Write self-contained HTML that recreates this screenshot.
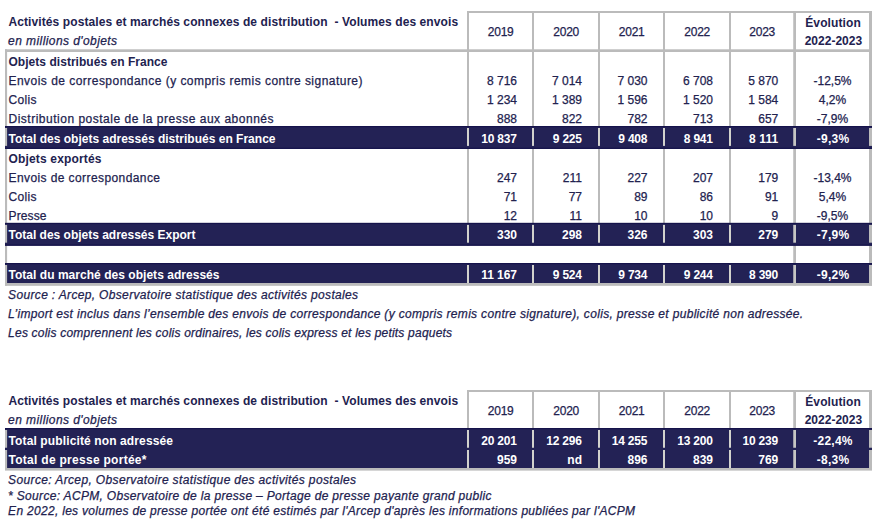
<!DOCTYPE html>
<html lang="fr"><head><meta charset="utf-8"><title>Activités postales - Volumes des envois</title>
<style>
html,body{margin:0;padding:0;background:#fff;}
svg{display:block;}
text{white-space:pre;}
</style></head>
<body>
<svg width="881" height="531" viewBox="0 0 881 531">
<rect x="0" y="0" width="881" height="531" fill="#ffffff"/>
<g font-family="'Liberation Sans', sans-serif" font-size="12" fill="#22224f">
<text x="8.5" y="25.6" font-weight="bold" textLength="449.6" lengthAdjust="spacing">Activités postales et marchés connexes de distribution  - Volumes des envois</text>
<text x="8.1" y="44.75" font-style="italic" stroke="#22224f" stroke-width="0.25" textLength="109" lengthAdjust="spacing">en millions d'objets</text>
<text x="500.75" y="36" text-anchor="middle" stroke="#22224f" stroke-width="0.25" textLength="26" lengthAdjust="spacing">2019</text>
<text x="566.25" y="36" text-anchor="middle" stroke="#22224f" stroke-width="0.25" textLength="26" lengthAdjust="spacing">2020</text>
<text x="631.75" y="36" text-anchor="middle" stroke="#22224f" stroke-width="0.25" textLength="26" lengthAdjust="spacing">2021</text>
<text x="697.25" y="36" text-anchor="middle" stroke="#22224f" stroke-width="0.25" textLength="26" lengthAdjust="spacing">2022</text>
<text x="762.25" y="36" text-anchor="middle" stroke="#22224f" stroke-width="0.25" textLength="26" lengthAdjust="spacing">2023</text>
<text x="833" y="26.6" text-anchor="middle" font-weight="bold" textLength="55.5" lengthAdjust="spacing">Évolution</text>
<text x="833.4" y="45.4" text-anchor="middle" font-weight="bold" textLength="57.5" lengthAdjust="spacing">2022-2023</text>
<rect x="467" y="11" width="405" height="2" fill="#bbbbbb"/>
<rect x="467" y="11" width="2" height="235" fill="#bbbbbb"/>
<rect x="532" y="11" width="2" height="235" fill="#bbbbbb"/>
<rect x="598" y="11" width="2" height="235" fill="#bbbbbb"/>
<rect x="663" y="11" width="2" height="235" fill="#bbbbbb"/>
<rect x="729" y="11" width="2" height="235" fill="#bbbbbb"/>
<rect x="793.25" y="11" width="2.75" height="274.6" fill="#bbbbbb"/>
<rect x="869" y="11" width="3" height="274.6" fill="#bbbbbb"/>
<rect x="5" y="49.3" width="2.1" height="236.3" fill="#bbbbbb"/>
<rect x="5" y="49.3" width="867" height="2.7" fill="#bbbbbb"/>
<rect x="5" y="283" width="867" height="2.6" fill="#bbbbbb"/>
<text x="8.5" y="65.6" font-weight="bold" textLength="159" lengthAdjust="spacing">Objets distribués en France</text>
<text x="8.5" y="84.75" stroke="#22224f" stroke-width="0.25" textLength="354" lengthAdjust="spacing">Envois de correspondance (y compris remis contre signature)</text>
<text x="517" y="84.75" text-anchor="end" stroke="#22224f" stroke-width="0.25">8 716</text>
<text x="582" y="84.75" text-anchor="end" stroke="#22224f" stroke-width="0.25">7 014</text>
<text x="647.5" y="84.75" text-anchor="end" stroke="#22224f" stroke-width="0.25">7 030</text>
<text x="713" y="84.75" text-anchor="end" stroke="#22224f" stroke-width="0.25">6 708</text>
<text x="778.25" y="84.75" text-anchor="end" stroke="#22224f" stroke-width="0.25">5 870</text>
<text x="832.5" y="84.75" text-anchor="middle" stroke="#22224f" stroke-width="0.25">-12,5%</text>
<text x="8.5" y="104" stroke="#22224f" stroke-width="0.25" textLength="28" lengthAdjust="spacing">Colis</text>
<text x="517" y="104" text-anchor="end" stroke="#22224f" stroke-width="0.25">1 234</text>
<text x="582" y="104" text-anchor="end" stroke="#22224f" stroke-width="0.25">1 389</text>
<text x="647.5" y="104" text-anchor="end" stroke="#22224f" stroke-width="0.25">1 596</text>
<text x="713" y="104" text-anchor="end" stroke="#22224f" stroke-width="0.25">1 520</text>
<text x="778.25" y="104" text-anchor="end" stroke="#22224f" stroke-width="0.25">1 584</text>
<text x="832.5" y="104" text-anchor="middle" stroke="#22224f" stroke-width="0.25">4,2%</text>
<text x="8.5" y="123" stroke="#22224f" stroke-width="0.25" textLength="265" lengthAdjust="spacing">Distribution postale de la presse aux abonnés</text>
<text x="517" y="123" text-anchor="end" stroke="#22224f" stroke-width="0.25">888</text>
<text x="582" y="123" text-anchor="end" stroke="#22224f" stroke-width="0.25">822</text>
<text x="647.5" y="123" text-anchor="end" stroke="#22224f" stroke-width="0.25">782</text>
<text x="713" y="123" text-anchor="end" stroke="#22224f" stroke-width="0.25">713</text>
<text x="778.25" y="123" text-anchor="end" stroke="#22224f" stroke-width="0.25">657</text>
<text x="832.5" y="123" text-anchor="middle" stroke="#22224f" stroke-width="0.25">-7,9%</text>
<rect x="5" y="126" width="867" height="22.9" fill="#232255"/>
<rect x="5" y="126" width="867" height="1.2" fill="#15134b"/>
<rect x="5" y="147.7" width="867" height="1.2" fill="#15134b"/>
<rect x="467" y="128" width="2" height="17.9" fill="#d2d2cd"/>
<rect x="532" y="128" width="2" height="17.9" fill="#d2d2cd"/>
<rect x="598" y="128" width="2" height="17.9" fill="#d2d2cd"/>
<rect x="663" y="128" width="2" height="17.9" fill="#d2d2cd"/>
<rect x="729" y="128" width="2" height="17.9" fill="#d2d2cd"/>
<rect x="793.25" y="128" width="2.75" height="17.9" fill="#c6c6c3"/>
<rect x="869" y="128" width="3" height="17.9" fill="#bbbbbb"/>
<rect x="5" y="128" width="2.1" height="17.9" fill="#bbbbbb"/>
<text x="8.5" y="143.1" font-weight="bold" fill="#fff" textLength="267" lengthAdjust="spacing">Total des objets adressés distribués en France</text>
<text x="517" y="143.1" text-anchor="end" font-weight="bold" fill="#fff" textLength="35.804" lengthAdjust="spacing">10 837</text>
<text x="582" y="143.1" text-anchor="end" font-weight="bold" fill="#fff" textLength="29.13" lengthAdjust="spacing">9 225</text>
<text x="647.5" y="143.1" text-anchor="end" font-weight="bold" fill="#fff" textLength="29.13" lengthAdjust="spacing">9 408</text>
<text x="713" y="143.1" text-anchor="end" font-weight="bold" fill="#fff" textLength="29.13" lengthAdjust="spacing">8 941</text>
<text x="778.25" y="143.1" text-anchor="end" font-weight="bold" fill="#fff" textLength="29.13" lengthAdjust="spacing">8 111</text>
<text x="832.9" y="143.1" text-anchor="middle" font-weight="bold" fill="#fff" textLength="32.544" lengthAdjust="spacing">-9,3%</text>
<text x="8.5" y="162.6" font-weight="bold" textLength="93" lengthAdjust="spacing">Objets exportés</text>
<text x="8.5" y="182" stroke="#22224f" stroke-width="0.25" textLength="151.5" lengthAdjust="spacing">Envois de correspondance</text>
<text x="517" y="182" text-anchor="end" stroke="#22224f" stroke-width="0.25">247</text>
<text x="582" y="182" text-anchor="end" stroke="#22224f" stroke-width="0.25">211</text>
<text x="647.5" y="182" text-anchor="end" stroke="#22224f" stroke-width="0.25">227</text>
<text x="713" y="182" text-anchor="end" stroke="#22224f" stroke-width="0.25">207</text>
<text x="778.25" y="182" text-anchor="end" stroke="#22224f" stroke-width="0.25">179</text>
<text x="832.5" y="182" text-anchor="middle" stroke="#22224f" stroke-width="0.25">-13,4%</text>
<text x="8.5" y="201" stroke="#22224f" stroke-width="0.25" textLength="28" lengthAdjust="spacing">Colis</text>
<text x="517" y="201" text-anchor="end" stroke="#22224f" stroke-width="0.25">71</text>
<text x="582" y="201" text-anchor="end" stroke="#22224f" stroke-width="0.25">77</text>
<text x="647.5" y="201" text-anchor="end" stroke="#22224f" stroke-width="0.25">89</text>
<text x="713" y="201" text-anchor="end" stroke="#22224f" stroke-width="0.25">86</text>
<text x="778.25" y="201" text-anchor="end" stroke="#22224f" stroke-width="0.25">91</text>
<text x="832.5" y="201" text-anchor="middle" stroke="#22224f" stroke-width="0.25">5,4%</text>
<text x="8.5" y="220" stroke="#22224f" stroke-width="0.25" textLength="38" lengthAdjust="spacing">Presse</text>
<text x="517" y="220" text-anchor="end" stroke="#22224f" stroke-width="0.25">12</text>
<text x="582" y="220" text-anchor="end" stroke="#22224f" stroke-width="0.25">11</text>
<text x="647.5" y="220" text-anchor="end" stroke="#22224f" stroke-width="0.25">10</text>
<text x="713" y="220" text-anchor="end" stroke="#22224f" stroke-width="0.25">10</text>
<text x="778.25" y="220" text-anchor="end" stroke="#22224f" stroke-width="0.25">9</text>
<text x="832.5" y="220" text-anchor="middle" stroke="#22224f" stroke-width="0.25">-9,5%</text>
<rect x="5" y="222.9" width="867" height="22.8" fill="#232255"/>
<rect x="5" y="222.9" width="867" height="1.2" fill="#15134b"/>
<rect x="5" y="244.5" width="867" height="1.2" fill="#15134b"/>
<rect x="467" y="224.9" width="2" height="17.8" fill="#d2d2cd"/>
<rect x="532" y="224.9" width="2" height="17.8" fill="#d2d2cd"/>
<rect x="598" y="224.9" width="2" height="17.8" fill="#d2d2cd"/>
<rect x="663" y="224.9" width="2" height="17.8" fill="#d2d2cd"/>
<rect x="729" y="224.9" width="2" height="17.8" fill="#d2d2cd"/>
<rect x="793.25" y="224.9" width="2.75" height="17.8" fill="#c6c6c3"/>
<rect x="869" y="224.9" width="3" height="17.8" fill="#bbbbbb"/>
<rect x="5" y="224.9" width="2.1" height="17.8" fill="#bbbbbb"/>
<text x="8.5" y="239.1" font-weight="bold" fill="#fff" textLength="187" lengthAdjust="spacing">Total des objets adressés Export</text>
<text x="517" y="239.1" text-anchor="end" font-weight="bold" fill="#fff">330</text>
<text x="582" y="239.1" text-anchor="end" font-weight="bold" fill="#fff">298</text>
<text x="647.5" y="239.1" text-anchor="end" font-weight="bold" fill="#fff">326</text>
<text x="713" y="239.1" text-anchor="end" font-weight="bold" fill="#fff">303</text>
<text x="778.25" y="239.1" text-anchor="end" font-weight="bold" fill="#fff">279</text>
<text x="832.9" y="239.1" text-anchor="middle" font-weight="bold" fill="#fff" textLength="32.544" lengthAdjust="spacing">-7,9%</text>
<rect x="5" y="263" width="867" height="20.2" fill="#232255"/>
<rect x="5" y="263" width="867" height="1.2" fill="#15134b"/>
<rect x="467" y="265" width="2" height="18.2" fill="#d2d2cd"/>
<rect x="532" y="265" width="2" height="18.2" fill="#d2d2cd"/>
<rect x="598" y="265" width="2" height="18.2" fill="#d2d2cd"/>
<rect x="663" y="265" width="2" height="18.2" fill="#d2d2cd"/>
<rect x="729" y="265" width="2" height="18.2" fill="#d2d2cd"/>
<rect x="793.25" y="265" width="2.75" height="18.2" fill="#c6c6c3"/>
<rect x="869" y="265" width="3" height="18.2" fill="#bbbbbb"/>
<rect x="5" y="265" width="2.1" height="18.2" fill="#bbbbbb"/>
<text x="8.5" y="278.8" font-weight="bold" fill="#fff" textLength="211" lengthAdjust="spacing">Total du marché des objets adressés</text>
<text x="517" y="278.8" text-anchor="end" font-weight="bold" fill="#fff" textLength="35.804" lengthAdjust="spacing">11 167</text>
<text x="582" y="278.8" text-anchor="end" font-weight="bold" fill="#fff" textLength="29.13" lengthAdjust="spacing">9 524</text>
<text x="647.5" y="278.8" text-anchor="end" font-weight="bold" fill="#fff" textLength="29.13" lengthAdjust="spacing">9 734</text>
<text x="713" y="278.8" text-anchor="end" font-weight="bold" fill="#fff" textLength="29.13" lengthAdjust="spacing">9 244</text>
<text x="778.25" y="278.8" text-anchor="end" font-weight="bold" fill="#fff" textLength="29.13" lengthAdjust="spacing">8 390</text>
<text x="832.9" y="278.8" text-anchor="middle" font-weight="bold" fill="#fff" textLength="32.544" lengthAdjust="spacing">-9,2%</text>
<rect x="5" y="283" width="867" height="2.6" fill="#bbbbbb"/>
<text x="8.1" y="298.75" font-style="italic" stroke="#22224f" stroke-width="0.25" textLength="350" lengthAdjust="spacing">Source : Arcep, Observatoire statistique des activités postales</text>
<text x="8.1" y="318.1" font-style="italic" stroke="#22224f" stroke-width="0.25" textLength="795" lengthAdjust="spacing">L’import est inclus dans l’ensemble des envois de correspondance (y compris remis contre signature), colis, presse et publicité non adressée.</text>
<text x="8.1" y="337.2" font-style="italic" stroke="#22224f" stroke-width="0.25" textLength="444" lengthAdjust="spacing">Les colis comprennent les colis ordinaires, les colis express et les petits paquets</text>
<text x="8.5" y="404.6" font-weight="bold" textLength="449.6" lengthAdjust="spacing">Activités postales et marchés connexes de distribution  - Volumes des envois</text>
<text x="8.1" y="423.75" font-style="italic" stroke="#22224f" stroke-width="0.25" textLength="109" lengthAdjust="spacing">en millions d'objets</text>
<text x="500.75" y="415" text-anchor="middle" stroke="#22224f" stroke-width="0.25" textLength="26" lengthAdjust="spacing">2019</text>
<text x="566.25" y="415" text-anchor="middle" stroke="#22224f" stroke-width="0.25" textLength="26" lengthAdjust="spacing">2020</text>
<text x="631.75" y="415" text-anchor="middle" stroke="#22224f" stroke-width="0.25" textLength="26" lengthAdjust="spacing">2021</text>
<text x="697.25" y="415" text-anchor="middle" stroke="#22224f" stroke-width="0.25" textLength="26" lengthAdjust="spacing">2022</text>
<text x="762.25" y="415" text-anchor="middle" stroke="#22224f" stroke-width="0.25" textLength="26" lengthAdjust="spacing">2023</text>
<text x="833" y="405.6" text-anchor="middle" font-weight="bold" textLength="55.5" lengthAdjust="spacing">Évolution</text>
<text x="833.4" y="424.4" text-anchor="middle" font-weight="bold" textLength="57.5" lengthAdjust="spacing">2022-2023</text>
<rect x="467" y="390" width="405" height="2" fill="#bbbbbb"/>
<rect x="467" y="390" width="2" height="38" fill="#bbbbbb"/>
<rect x="532" y="390" width="2" height="38" fill="#bbbbbb"/>
<rect x="598" y="390" width="2" height="38" fill="#bbbbbb"/>
<rect x="663" y="390" width="2" height="38" fill="#bbbbbb"/>
<rect x="729" y="390" width="2" height="38" fill="#bbbbbb"/>
<rect x="793.25" y="390" width="2.75" height="38" fill="#bbbbbb"/>
<rect x="869" y="390" width="3" height="38" fill="#bbbbbb"/>
<rect x="5" y="428" width="867" height="22" fill="#232255"/>
<rect x="5" y="428" width="867" height="1.2" fill="#15134b"/>
<rect x="467" y="430" width="2" height="17.75" fill="#d2d2cd"/>
<rect x="532" y="430" width="2" height="17.75" fill="#d2d2cd"/>
<rect x="598" y="430" width="2" height="17.75" fill="#d2d2cd"/>
<rect x="663" y="430" width="2" height="17.75" fill="#d2d2cd"/>
<rect x="729" y="430" width="2" height="17.75" fill="#d2d2cd"/>
<rect x="793.25" y="430" width="2.75" height="17.75" fill="#c6c6c3"/>
<rect x="869" y="430" width="3" height="17.75" fill="#bbbbbb"/>
<rect x="5" y="430" width="2.1" height="17.75" fill="#bbbbbb"/>
<text x="8.5" y="445" font-weight="bold" fill="#fff" textLength="164.5" lengthAdjust="spacing">Total publicité non adressée</text>
<text x="517" y="445" text-anchor="end" font-weight="bold" fill="#fff" textLength="35.804" lengthAdjust="spacing">20 201</text>
<text x="582" y="445" text-anchor="end" font-weight="bold" fill="#fff" textLength="35.804" lengthAdjust="spacing">12 296</text>
<text x="647.5" y="445" text-anchor="end" font-weight="bold" fill="#fff" textLength="35.804" lengthAdjust="spacing">14 255</text>
<text x="713" y="445" text-anchor="end" font-weight="bold" fill="#fff" textLength="35.804" lengthAdjust="spacing">13 200</text>
<text x="778.25" y="445" text-anchor="end" font-weight="bold" fill="#fff" textLength="35.804" lengthAdjust="spacing">10 239</text>
<text x="832.9" y="445" text-anchor="middle" font-weight="bold" fill="#fff" textLength="39.216" lengthAdjust="spacing">-22,4%</text>
<rect x="5" y="450" width="867" height="18.2" fill="#232255"/>
<rect x="467" y="450" width="2" height="18.2" fill="#d2d2cd"/>
<rect x="532" y="450" width="2" height="18.2" fill="#d2d2cd"/>
<rect x="598" y="450" width="2" height="18.2" fill="#d2d2cd"/>
<rect x="663" y="450" width="2" height="18.2" fill="#d2d2cd"/>
<rect x="729" y="450" width="2" height="18.2" fill="#d2d2cd"/>
<rect x="793.25" y="450" width="2.75" height="18.2" fill="#c6c6c3"/>
<rect x="869" y="450" width="3" height="18.2" fill="#bbbbbb"/>
<rect x="5" y="450" width="2.1" height="18.2" fill="#bbbbbb"/>
<text x="8.5" y="464.2" font-weight="bold" fill="#fff" textLength="138" lengthAdjust="spacing">Total de presse portée*</text>
<text x="517" y="464.2" text-anchor="end" font-weight="bold" fill="#fff">959</text>
<text x="582" y="464.2" text-anchor="end" font-weight="bold" fill="#fff">nd</text>
<text x="647.5" y="464.2" text-anchor="end" font-weight="bold" fill="#fff">896</text>
<text x="713" y="464.2" text-anchor="end" font-weight="bold" fill="#fff">839</text>
<text x="778.25" y="464.2" text-anchor="end" font-weight="bold" fill="#fff">769</text>
<text x="832.9" y="464.2" text-anchor="middle" font-weight="bold" fill="#fff" textLength="32.544" lengthAdjust="spacing">-8,3%</text>
<rect x="5" y="468" width="867" height="2.6" fill="#bbbbbb"/>
<text x="8.1" y="484" font-style="italic" stroke="#22224f" stroke-width="0.25" textLength="348" lengthAdjust="spacing">Source: Arcep, Observatoire statistique des activités postales</text>
<text x="8.1" y="499.9" font-style="italic" stroke="#22224f" stroke-width="0.25" textLength="483.5" lengthAdjust="spacing">* Source: ACPM, Observatoire de la presse – Portage de presse payante grand public</text>
<text x="8.1" y="514.6" font-style="italic" stroke="#22224f" stroke-width="0.25" textLength="627" lengthAdjust="spacing">En 2022, les volumes de presse portée ont été estimés par l'Arcep d'après les informations publiées par l'ACPM</text>
</g>
</svg>
</body></html>
